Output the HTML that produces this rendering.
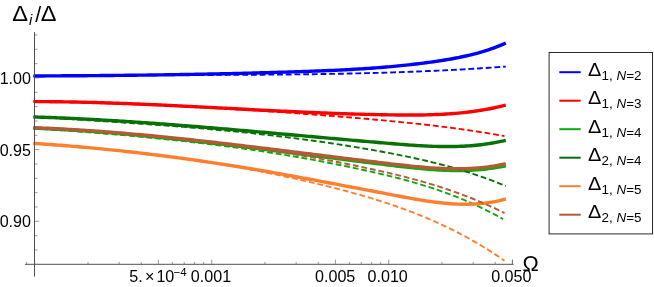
<!DOCTYPE html>
<html><head><meta charset="utf-8"><title>plot</title>
<style>
html,body{margin:0;padding:0;background:#fff;}
svg{display:block;}
#w{transform:translateZ(0);will-change:transform;width:654px;height:287px;overflow:hidden;background:#fff;}
text{font-family:"Liberation Sans",sans-serif;fill:#000;}
</style></head><body><div id="w">
<svg width="654" height="287" viewBox="0 0 654 287">
<rect width="654" height="287" fill="#fff"/>
<g>
<path d="M33.5 75.97 L36.0 75.96 L38.5 75.95 L41.0 75.94 L43.5 75.93 L46.0 75.91 L48.5 75.90 L51.0 75.89 L53.5 75.88 L56.0 75.87 L58.5 75.85 L61.0 75.84 L63.5 75.82 L66.0 75.81 L68.5 75.79 L71.0 75.78 L73.5 75.76 L76.0 75.75 L78.5 75.73 L81.0 75.71 L83.5 75.70 L86.0 75.68 L88.5 75.66 L91.0 75.64 L93.5 75.62 L96.0 75.60 L98.5 75.58 L101.0 75.56 L103.5 75.54 L106.0 75.51 L108.5 75.49 L111.0 75.47 L113.5 75.44 L116.0 75.42 L118.5 75.40 L121.0 75.37 L123.5 75.34 L126.0 75.32 L128.5 75.29 L131.0 75.26 L133.5 75.23 L136.0 75.20 L138.5 75.17 L141.0 75.14 L143.5 75.11 L146.0 75.08 L148.5 75.05 L151.0 75.02 L153.5 74.98 L156.0 74.95 L158.5 74.91 L161.0 74.88 L163.5 74.84 L166.0 74.80 L168.5 74.77 L171.0 74.73 L173.5 74.69 L176.0 74.65 L178.5 74.61 L181.0 74.57 L183.5 74.53 L186.0 74.48 L188.5 74.44 L191.0 74.40 L193.5 74.35 L196.0 74.30 L198.5 74.26 L201.0 74.21 L203.5 74.16 L206.0 74.11 L208.5 74.06 L211.0 74.01 L213.5 73.96 L216.0 73.91 L218.5 73.86 L221.0 73.80 L223.5 73.75 L226.0 73.69 L228.5 73.63 L231.0 73.58 L233.5 73.52 L236.0 73.46 L238.5 73.40 L241.0 73.34 L243.5 73.28 L246.0 73.21 L248.5 73.15 L251.0 73.09 L253.5 73.02 L256.0 72.95 L258.5 72.89 L261.0 72.82 L263.5 72.75 L266.0 72.68 L268.5 72.61 L271.0 72.53 L273.5 72.46 L276.0 72.39 L278.5 72.31 L281.0 72.24 L283.5 72.16 L286.0 72.08 L288.5 72.00 L291.0 71.92 L293.5 71.84 L296.0 71.76 L298.5 71.67 L301.0 71.59 L303.5 71.50 L306.0 71.41 L308.5 71.33 L311.0 71.24 L313.5 71.14 L316.0 71.05 L318.5 70.96 L321.0 70.86 L323.5 70.76 L326.0 70.65 L328.5 70.55 L331.0 70.44 L333.5 70.33 L336.0 70.22 L338.5 70.10 L341.0 69.98 L343.5 69.85 L346.0 69.73 L348.5 69.59 L351.0 69.46 L353.5 69.32 L356.0 69.17 L358.5 69.02 L361.0 68.87 L363.5 68.71 L366.0 68.55 L368.5 68.38 L371.0 68.21 L373.5 68.03 L376.0 67.84 L378.5 67.65 L381.0 67.46 L383.5 67.26 L386.0 67.05 L388.5 66.83 L391.0 66.61 L393.5 66.39 L396.0 66.15 L398.5 65.91 L401.0 65.66 L403.5 65.41 L406.0 65.15 L408.5 64.88 L411.0 64.60 L413.5 64.31 L416.0 64.02 L418.5 63.72 L421.0 63.41 L423.5 63.09 L426.0 62.76 L428.5 62.43 L431.0 62.08 L433.5 61.73 L436.0 61.36 L438.5 60.99 L441.0 60.60 L443.5 60.21 L446.0 59.80 L448.5 59.38 L451.0 58.95 L453.5 58.50 L456.0 58.03 L458.5 57.55 L461.0 57.04 L463.5 56.52 L466.0 55.97 L468.5 55.40 L471.0 54.80 L473.5 54.18 L476.0 53.53 L478.5 52.85 L481.0 52.14 L483.5 51.40 L486.0 50.62 L488.5 49.81 L491.0 48.96 L493.5 48.07 L496.0 47.14 L498.5 46.16 L501.0 45.15 L503.5 44.09 L505.8 43.07" fill="none" stroke="#0000ff" stroke-width="3.4" stroke-linecap="butt" stroke-linejoin="round"/>
<path d="M33.5 76.21 L36.0 76.16 L38.5 76.12 L41.0 76.07 L43.5 76.03 L46.0 75.99 L48.5 75.95 L51.0 75.91 L53.5 75.88 L56.0 75.84 L58.5 75.81 L61.0 75.77 L63.5 75.74 L66.0 75.71 L68.5 75.68 L71.0 75.65 L73.5 75.62 L76.0 75.59 L78.5 75.57 L81.0 75.54 L83.5 75.52 L86.0 75.49 L88.5 75.47 L91.0 75.45 L93.5 75.43 L96.0 75.41 L98.5 75.39 L101.0 75.37 L103.5 75.35 L106.0 75.33 L108.5 75.31 L111.0 75.30 L113.5 75.28 L116.0 75.27 L118.5 75.25 L121.0 75.24 L123.5 75.23 L126.0 75.21 L128.5 75.20 L131.0 75.19 L133.5 75.18 L136.0 75.17 L138.5 75.16 L141.0 75.15 L143.5 75.14 L146.0 75.13 L148.5 75.12 L151.0 75.11 L153.5 75.10 L156.0 75.09 L158.5 75.08 L161.0 75.08 L163.5 75.07 L166.0 75.06 L168.5 75.05 L171.0 75.05 L173.5 75.04 L176.0 75.03 L178.5 75.03 L181.0 75.02 L183.5 75.01 L186.0 75.01 L188.5 75.00 L191.0 74.99 L193.5 74.99 L196.0 74.98 L198.5 74.97 L201.0 74.97 L203.5 74.96 L206.0 74.95 L208.5 74.94 L211.0 74.94 L213.5 74.93 L216.0 74.92 L218.5 74.91 L221.0 74.90 L223.5 74.89 L226.0 74.88 L228.5 74.88 L231.0 74.87 L233.5 74.85 L236.0 74.84 L238.5 74.83 L241.0 74.82 L243.5 74.81 L246.0 74.80 L248.5 74.78 L251.0 74.77 L253.5 74.75 L256.0 74.74 L258.5 74.72 L261.0 74.71 L263.5 74.69 L266.0 74.67 L268.5 74.65 L271.0 74.64 L273.5 74.62 L276.0 74.60 L278.5 74.57 L281.0 74.55 L283.5 74.53 L286.0 74.51 L288.5 74.48 L291.0 74.46 L293.5 74.43 L296.0 74.40 L298.5 74.37 L301.0 74.34 L303.5 74.31 L306.0 74.28 L308.5 74.25 L311.0 74.22 L313.5 74.18 L316.0 74.15 L318.5 74.11 L321.0 74.07 L323.5 74.03 L326.0 73.99 L328.5 73.95 L331.0 73.91 L333.5 73.87 L336.0 73.82 L338.5 73.77 L341.0 73.73 L343.5 73.68 L346.0 73.63 L348.5 73.57 L351.0 73.52 L353.5 73.47 L356.0 73.41 L358.5 73.35 L361.0 73.29 L363.5 73.23 L366.0 73.17 L368.5 73.11 L371.0 73.04 L373.5 72.98 L376.0 72.91 L378.5 72.84 L381.0 72.77 L383.5 72.69 L386.0 72.62 L388.5 72.54 L391.0 72.46 L393.5 72.38 L396.0 72.30 L398.5 72.21 L401.0 72.13 L403.5 72.04 L406.0 71.95 L408.5 71.86 L411.0 71.77 L413.5 71.67 L416.0 71.57 L418.5 71.48 L421.0 71.37 L423.5 71.27 L426.0 71.17 L428.5 71.06 L431.0 70.95 L433.5 70.84 L436.0 70.72 L438.5 70.61 L441.0 70.49 L443.5 70.37 L446.0 70.25 L448.5 70.12 L451.0 70.00 L453.5 69.87 L456.0 69.73 L458.5 69.60 L461.0 69.46 L463.5 69.33 L466.0 69.19 L468.5 69.04 L471.0 68.90 L473.5 68.75 L476.0 68.60 L478.5 68.44 L481.0 68.29 L483.5 68.13 L486.0 67.97 L488.5 67.81 L491.0 67.64 L493.5 67.47 L496.0 67.30 L498.5 67.13 L501.0 66.95 L503.5 66.77 L505.8 66.60" fill="none" stroke="#0000ff" stroke-width="1.9" stroke-dasharray="5.8 2.9" stroke-linecap="butt"/>
<path d="M33.5 101.59 L36.0 101.59 L38.5 101.60 L41.0 101.61 L43.5 101.62 L46.0 101.63 L48.5 101.65 L51.0 101.68 L53.5 101.70 L56.0 101.73 L58.5 101.76 L61.0 101.79 L63.5 101.83 L66.0 101.87 L68.5 101.91 L71.0 101.96 L73.5 102.00 L76.0 102.06 L78.5 102.11 L81.0 102.16 L83.5 102.22 L86.0 102.28 L88.5 102.35 L91.0 102.41 L93.5 102.48 L96.0 102.55 L98.5 102.62 L101.0 102.69 L103.5 102.77 L106.0 102.85 L108.5 102.93 L111.0 103.01 L113.5 103.10 L116.0 103.18 L118.5 103.27 L121.0 103.36 L123.5 103.46 L126.0 103.55 L128.5 103.65 L131.0 103.74 L133.5 103.84 L136.0 103.94 L138.5 104.05 L141.0 104.15 L143.5 104.26 L146.0 104.36 L148.5 104.47 L151.0 104.58 L153.5 104.69 L156.0 104.80 L158.5 104.92 L161.0 105.03 L163.5 105.15 L166.0 105.26 L168.5 105.38 L171.0 105.50 L173.5 105.62 L176.0 105.74 L178.5 105.86 L181.0 105.99 L183.5 106.11 L186.0 106.23 L188.5 106.36 L191.0 106.48 L193.5 106.61 L196.0 106.74 L198.5 106.86 L201.0 106.99 L203.5 107.12 L206.0 107.25 L208.5 107.38 L211.0 107.50 L213.5 107.63 L216.0 107.76 L218.5 107.89 L221.0 108.02 L223.5 108.15 L226.0 108.28 L228.5 108.41 L231.0 108.54 L233.5 108.67 L236.0 108.80 L238.5 108.93 L241.0 109.06 L243.5 109.19 L246.0 109.32 L248.5 109.45 L251.0 109.58 L253.5 109.71 L256.0 109.84 L258.5 109.96 L261.0 110.09 L263.5 110.22 L266.0 110.34 L268.5 110.47 L271.0 110.59 L273.5 110.71 L276.0 110.84 L278.5 110.96 L281.0 111.08 L283.5 111.20 L286.0 111.32 L288.5 111.44 L291.0 111.55 L293.5 111.67 L296.0 111.78 L298.5 111.90 L301.0 112.01 L303.5 112.12 L306.0 112.23 L308.5 112.34 L311.0 112.44 L313.5 112.55 L316.0 112.65 L318.5 112.76 L321.0 112.86 L323.5 112.96 L326.0 113.05 L328.5 113.15 L331.0 113.24 L333.5 113.34 L336.0 113.43 L338.5 113.52 L341.0 113.60 L343.5 113.69 L346.0 113.77 L348.5 113.85 L351.0 113.93 L353.5 114.01 L356.0 114.08 L358.5 114.15 L361.0 114.22 L363.5 114.29 L366.0 114.36 L368.5 114.42 L371.0 114.48 L373.5 114.54 L376.0 114.59 L378.5 114.65 L381.0 114.70 L383.5 114.75 L386.0 114.79 L388.5 114.83 L391.0 114.87 L393.5 114.91 L396.0 114.94 L398.5 114.97 L401.0 115.00 L403.5 115.02 L406.0 115.03 L408.5 115.04 L411.0 115.04 L413.5 115.03 L416.0 115.02 L418.5 115.00 L421.0 114.97 L423.5 114.93 L426.0 114.88 L428.5 114.82 L431.0 114.75 L433.5 114.67 L436.0 114.57 L438.5 114.47 L441.0 114.35 L443.5 114.22 L446.0 114.07 L448.5 113.91 L451.0 113.73 L453.5 113.54 L456.0 113.34 L458.5 113.11 L461.0 112.87 L463.5 112.61 L466.0 112.34 L468.5 112.04 L471.0 111.73 L473.5 111.40 L476.0 111.04 L478.5 110.67 L481.0 110.27 L483.5 109.86 L486.0 109.42 L488.5 108.96 L491.0 108.47 L493.5 107.96 L496.0 107.43 L498.5 106.87 L501.0 106.29 L503.5 105.68 L505.8 105.10" fill="none" stroke="#ff0000" stroke-width="3.4" stroke-linecap="butt" stroke-linejoin="round"/>
<path d="M33.5 101.30 L36.0 101.35 L38.5 101.41 L41.0 101.46 L43.5 101.51 L46.0 101.57 L48.5 101.62 L51.0 101.68 L53.5 101.74 L56.0 101.80 L58.5 101.86 L61.0 101.92 L63.5 101.99 L66.0 102.05 L68.5 102.12 L71.0 102.18 L73.5 102.25 L76.0 102.32 L78.5 102.39 L81.0 102.46 L83.5 102.53 L86.0 102.61 L88.5 102.68 L91.0 102.76 L93.5 102.83 L96.0 102.91 L98.5 102.99 L101.0 103.07 L103.5 103.15 L106.0 103.24 L108.5 103.32 L111.0 103.40 L113.5 103.49 L116.0 103.58 L118.5 103.67 L121.0 103.76 L123.5 103.85 L126.0 103.94 L128.5 104.03 L131.0 104.13 L133.5 104.23 L136.0 104.32 L138.5 104.42 L141.0 104.52 L143.5 104.62 L146.0 104.72 L148.5 104.83 L151.0 104.93 L153.5 105.04 L156.0 105.14 L158.5 105.25 L161.0 105.36 L163.5 105.47 L166.0 105.58 L168.5 105.70 L171.0 105.81 L173.5 105.93 L176.0 106.04 L178.5 106.16 L181.0 106.28 L183.5 106.40 L186.0 106.53 L188.5 106.65 L191.0 106.77 L193.5 106.90 L196.0 107.03 L198.5 107.15 L201.0 107.28 L203.5 107.42 L206.0 107.55 L208.5 107.68 L211.0 107.82 L213.5 107.95 L216.0 108.09 L218.5 108.23 L221.0 108.37 L223.5 108.51 L226.0 108.65 L228.5 108.80 L231.0 108.94 L233.5 109.09 L236.0 109.24 L238.5 109.39 L241.0 109.54 L243.5 109.69 L246.0 109.84 L248.5 110.00 L251.0 110.15 L253.5 110.31 L256.0 110.47 L258.5 110.63 L261.0 110.79 L263.5 110.95 L266.0 111.12 L268.5 111.28 L271.0 111.45 L273.5 111.62 L276.0 111.79 L278.5 111.96 L281.0 112.13 L283.5 112.30 L286.0 112.48 L288.5 112.65 L291.0 112.83 L293.5 113.01 L296.0 113.19 L298.5 113.37 L301.0 113.56 L303.5 113.74 L306.0 113.93 L308.5 114.11 L311.0 114.30 L313.5 114.49 L316.0 114.68 L318.5 114.88 L321.0 115.07 L323.5 115.27 L326.0 115.47 L328.5 115.66 L331.0 115.86 L333.5 116.07 L336.0 116.27 L338.5 116.47 L341.0 116.68 L343.5 116.89 L346.0 117.10 L348.5 117.31 L351.0 117.52 L353.5 117.73 L356.0 117.95 L358.5 118.16 L361.0 118.38 L363.5 118.60 L366.0 118.82 L368.5 119.04 L371.0 119.26 L373.5 119.49 L376.0 119.72 L378.5 119.94 L381.0 120.17 L383.5 120.41 L386.0 120.64 L388.5 120.88 L391.0 121.11 L393.5 121.36 L396.0 121.60 L398.5 121.85 L401.0 122.09 L403.5 122.35 L406.0 122.60 L408.5 122.86 L411.0 123.12 L413.5 123.38 L416.0 123.65 L418.5 123.92 L421.0 124.19 L423.5 124.47 L426.0 124.75 L428.5 125.04 L431.0 125.33 L433.5 125.62 L436.0 125.92 L438.5 126.22 L441.0 126.53 L443.5 126.84 L446.0 127.15 L448.5 127.47 L451.0 127.80 L453.5 128.13 L456.0 128.46 L458.5 128.80 L461.0 129.15 L463.5 129.50 L466.0 129.86 L468.5 130.22 L471.0 130.59 L473.5 130.96 L476.0 131.34 L478.5 131.73 L481.0 132.12 L483.5 132.52 L486.0 132.92 L488.5 133.33 L491.0 133.75 L493.5 134.17 L496.0 134.60 L498.5 135.04 L501.0 135.49 L503.5 135.94 L504.5 136.12" fill="none" stroke="#ff0000" stroke-width="1.9" stroke-dasharray="5.8 2.9" stroke-linecap="butt"/>
<path d="M33.5 128.20 L36.0 128.30 L38.5 128.40 L41.0 128.50 L43.5 128.61 L46.0 128.72 L48.5 128.84 L51.0 128.95 L53.5 129.08 L56.0 129.20 L58.5 129.33 L61.0 129.47 L63.5 129.61 L66.0 129.75 L68.5 129.89 L71.0 130.04 L73.5 130.19 L76.0 130.35 L78.5 130.51 L81.0 130.67 L83.5 130.84 L86.0 131.01 L88.5 131.18 L91.0 131.35 L93.5 131.53 L96.0 131.71 L98.5 131.90 L101.0 132.09 L103.5 132.28 L106.0 132.47 L108.5 132.67 L111.0 132.87 L113.5 133.08 L116.0 133.28 L118.5 133.49 L121.0 133.70 L123.5 133.92 L126.0 134.14 L128.5 134.36 L131.0 134.58 L133.5 134.80 L136.0 135.03 L138.5 135.26 L141.0 135.50 L143.5 135.73 L146.0 135.97 L148.5 136.21 L151.0 136.46 L153.5 136.70 L156.0 136.95 L158.5 137.20 L161.0 137.45 L163.5 137.71 L166.0 137.96 L168.5 138.22 L171.0 138.48 L173.5 138.74 L176.0 139.01 L178.5 139.28 L181.0 139.55 L183.5 139.82 L186.0 140.09 L188.5 140.36 L191.0 140.64 L193.5 140.92 L196.0 141.20 L198.5 141.48 L201.0 141.76 L203.5 142.05 L206.0 142.33 L208.5 142.62 L211.0 142.91 L213.5 143.20 L216.0 143.49 L218.5 143.79 L221.0 144.08 L223.5 144.38 L226.0 144.68 L228.5 144.98 L231.0 145.28 L233.5 145.58 L236.0 145.88 L238.5 146.18 L241.0 146.49 L243.5 146.79 L246.0 147.10 L248.5 147.41 L251.0 147.72 L253.5 148.03 L256.0 148.34 L258.5 148.65 L261.0 148.96 L263.5 149.27 L266.0 149.59 L268.5 149.90 L271.0 150.22 L273.5 150.53 L276.0 150.85 L278.5 151.16 L281.0 151.48 L283.5 151.80 L286.0 152.11 L288.5 152.43 L291.0 152.75 L293.5 153.07 L296.0 153.39 L298.5 153.71 L301.0 154.03 L303.5 154.35 L306.0 154.67 L308.5 154.99 L311.0 155.31 L313.5 155.63 L316.0 155.95 L318.5 156.26 L321.0 156.58 L323.5 156.90 L326.0 157.22 L328.5 157.54 L331.0 157.86 L333.5 158.18 L336.0 158.50 L338.5 158.82 L341.0 159.13 L343.5 159.45 L346.0 159.77 L348.5 160.08 L351.0 160.40 L353.5 160.71 L356.0 161.03 L358.5 161.34 L361.0 161.65 L363.5 161.97 L366.0 162.28 L368.5 162.59 L371.0 162.90 L373.5 163.21 L376.0 163.51 L378.5 163.82 L381.0 164.13 L383.5 164.43 L386.0 164.74 L388.5 165.04 L391.0 165.34 L393.5 165.64 L396.0 165.94 L398.5 166.23 L401.0 166.53 L403.5 166.81 L406.0 167.10 L408.5 167.37 L411.0 167.64 L413.5 167.90 L416.0 168.16 L418.5 168.40 L421.0 168.64 L423.5 168.86 L426.0 169.08 L428.5 169.28 L431.0 169.47 L433.5 169.65 L436.0 169.81 L438.5 169.96 L441.0 170.09 L443.5 170.21 L446.0 170.31 L448.5 170.39 L451.0 170.45 L453.5 170.49 L456.0 170.52 L458.5 170.52 L461.0 170.50 L463.5 170.46 L466.0 170.40 L468.5 170.31 L471.0 170.20 L473.5 170.07 L476.0 169.91 L478.5 169.72 L481.0 169.50 L483.5 169.26 L486.0 168.99 L488.5 168.68 L491.0 168.35 L493.5 167.99 L496.0 167.59 L498.5 167.17 L501.0 166.71 L503.5 166.21 L505.8 165.73" fill="none" stroke="#0cab0c" stroke-width="3.4" stroke-linecap="butt" stroke-linejoin="round"/>
<path d="M33.5 128.32 L36.0 128.49 L38.5 128.66 L41.0 128.83 L43.5 129.00 L46.0 129.17 L48.5 129.34 L51.0 129.51 L53.5 129.69 L56.0 129.86 L58.5 130.04 L61.0 130.22 L63.5 130.40 L66.0 130.58 L68.5 130.76 L71.0 130.95 L73.5 131.13 L76.0 131.32 L78.5 131.50 L81.0 131.69 L83.5 131.88 L86.0 132.08 L88.5 132.27 L91.0 132.47 L93.5 132.66 L96.0 132.86 L98.5 133.06 L101.0 133.27 L103.5 133.47 L106.0 133.68 L108.5 133.88 L111.0 134.09 L113.5 134.30 L116.0 134.52 L118.5 134.73 L121.0 134.95 L123.5 135.17 L126.0 135.39 L128.5 135.61 L131.0 135.84 L133.5 136.07 L136.0 136.30 L138.5 136.53 L141.0 136.76 L143.5 137.00 L146.0 137.24 L148.5 137.48 L151.0 137.72 L153.5 137.97 L156.0 138.21 L158.5 138.46 L161.0 138.72 L163.5 138.97 L166.0 139.23 L168.5 139.49 L171.0 139.75 L173.5 140.02 L176.0 140.28 L178.5 140.55 L181.0 140.83 L183.5 141.10 L186.0 141.38 L188.5 141.66 L191.0 141.95 L193.5 142.23 L196.0 142.52 L198.5 142.82 L201.0 143.11 L203.5 143.41 L206.0 143.71 L208.5 144.02 L211.0 144.32 L213.5 144.63 L216.0 144.95 L218.5 145.26 L221.0 145.58 L223.5 145.91 L226.0 146.23 L228.5 146.56 L231.0 146.90 L233.5 147.23 L236.0 147.57 L238.5 147.91 L241.0 148.26 L243.5 148.61 L246.0 148.96 L248.5 149.32 L251.0 149.68 L253.5 150.04 L256.0 150.41 L258.5 150.78 L261.0 151.15 L263.5 151.53 L266.0 151.91 L268.5 152.30 L271.0 152.69 L273.5 153.08 L276.0 153.48 L278.5 153.88 L281.0 154.28 L283.5 154.69 L286.0 155.10 L288.5 155.52 L291.0 155.94 L293.5 156.36 L296.0 156.79 L298.5 157.22 L301.0 157.66 L303.5 158.10 L306.0 158.54 L308.5 158.99 L311.0 159.44 L313.5 159.90 L316.0 160.36 L318.5 160.83 L321.0 161.30 L323.5 161.77 L326.0 162.25 L328.5 162.73 L331.0 163.22 L333.5 163.71 L336.0 164.21 L338.5 164.71 L341.0 165.22 L343.5 165.73 L346.0 166.24 L348.5 166.76 L351.0 167.29 L353.5 167.81 L356.0 168.35 L358.5 168.89 L361.0 169.43 L363.5 169.98 L366.0 170.53 L368.5 171.09 L371.0 171.65 L373.5 172.22 L376.0 172.79 L378.5 173.37 L381.0 173.96 L383.5 174.55 L386.0 175.15 L388.5 175.76 L391.0 176.38 L393.5 177.00 L396.0 177.63 L398.5 178.28 L401.0 178.93 L403.5 179.59 L406.0 180.27 L408.5 180.95 L411.0 181.65 L413.5 182.36 L416.0 183.08 L418.5 183.82 L421.0 184.56 L423.5 185.32 L426.0 186.10 L428.5 186.89 L431.0 187.70 L433.5 188.52 L436.0 189.36 L438.5 190.21 L441.0 191.08 L443.5 191.97 L446.0 192.87 L448.5 193.80 L451.0 194.74 L453.5 195.70 L456.0 196.68 L458.5 197.68 L461.0 198.69 L463.5 199.73 L466.0 200.79 L468.5 201.87 L471.0 202.97 L473.5 204.09 L476.0 205.24 L478.5 206.40 L481.0 207.59 L483.5 208.80 L486.0 210.03 L488.5 211.29 L491.0 212.57 L493.5 213.88 L496.0 215.21 L498.5 216.56 L501.0 217.94 L503.0 219.07" fill="none" stroke="#0cab0c" stroke-width="1.9" stroke-dasharray="5.8 2.9" stroke-linecap="butt"/>
<path d="M33.5 116.97 L36.0 117.05 L38.5 117.13 L41.0 117.21 L43.5 117.29 L46.0 117.38 L48.5 117.47 L51.0 117.57 L53.5 117.66 L56.0 117.76 L58.5 117.86 L61.0 117.96 L63.5 118.07 L66.0 118.18 L68.5 118.29 L71.0 118.40 L73.5 118.52 L76.0 118.64 L78.5 118.76 L81.0 118.88 L83.5 119.00 L86.0 119.13 L88.5 119.26 L91.0 119.39 L93.5 119.53 L96.0 119.66 L98.5 119.80 L101.0 119.94 L103.5 120.08 L106.0 120.23 L108.5 120.37 L111.0 120.52 L113.5 120.67 L116.0 120.82 L118.5 120.98 L121.0 121.13 L123.5 121.29 L126.0 121.45 L128.5 121.61 L131.0 121.77 L133.5 121.94 L136.0 122.11 L138.5 122.27 L141.0 122.44 L143.5 122.62 L146.0 122.79 L148.5 122.96 L151.0 123.14 L153.5 123.32 L156.0 123.50 L158.5 123.68 L161.0 123.86 L163.5 124.05 L166.0 124.23 L168.5 124.42 L171.0 124.61 L173.5 124.80 L176.0 124.99 L178.5 125.18 L181.0 125.37 L183.5 125.57 L186.0 125.76 L188.5 125.96 L191.0 126.16 L193.5 126.36 L196.0 126.56 L198.5 126.76 L201.0 126.96 L203.5 127.17 L206.0 127.37 L208.5 127.58 L211.0 127.78 L213.5 127.99 L216.0 128.20 L218.5 128.41 L221.0 128.62 L223.5 128.83 L226.0 129.04 L228.5 129.25 L231.0 129.47 L233.5 129.68 L236.0 129.90 L238.5 130.11 L241.0 130.33 L243.5 130.55 L246.0 130.76 L248.5 130.98 L251.0 131.20 L253.5 131.42 L256.0 131.64 L258.5 131.86 L261.0 132.08 L263.5 132.30 L266.0 132.52 L268.5 132.74 L271.0 132.97 L273.5 133.19 L276.0 133.41 L278.5 133.64 L281.0 133.86 L283.5 134.08 L286.0 134.31 L288.5 134.53 L291.0 134.75 L293.5 134.98 L296.0 135.20 L298.5 135.43 L301.0 135.65 L303.5 135.88 L306.0 136.10 L308.5 136.32 L311.0 136.55 L313.5 136.77 L316.0 137.00 L318.5 137.22 L321.0 137.45 L323.5 137.67 L326.0 137.89 L328.5 138.12 L331.0 138.34 L333.5 138.56 L336.0 138.78 L338.5 139.01 L341.0 139.23 L343.5 139.45 L346.0 139.67 L348.5 139.89 L351.0 140.11 L353.5 140.33 L356.0 140.55 L358.5 140.77 L361.0 140.98 L363.5 141.20 L366.0 141.42 L368.5 141.63 L371.0 141.85 L373.5 142.06 L376.0 142.28 L378.5 142.49 L381.0 142.70 L383.5 142.91 L386.0 143.12 L388.5 143.33 L391.0 143.54 L393.5 143.75 L396.0 143.96 L398.5 144.16 L401.0 144.36 L403.5 144.56 L406.0 144.75 L408.5 144.93 L411.0 145.11 L413.5 145.28 L416.0 145.45 L418.5 145.61 L421.0 145.75 L423.5 145.89 L426.0 146.02 L428.5 146.13 L431.0 146.24 L433.5 146.33 L436.0 146.41 L438.5 146.47 L441.0 146.52 L443.5 146.55 L446.0 146.57 L448.5 146.57 L451.0 146.55 L453.5 146.52 L456.0 146.46 L458.5 146.39 L461.0 146.29 L463.5 146.18 L466.0 146.04 L468.5 145.88 L471.0 145.69 L473.5 145.48 L476.0 145.25 L478.5 144.99 L481.0 144.70 L483.5 144.39 L486.0 144.05 L488.5 143.68 L491.0 143.29 L493.5 142.86 L496.0 142.40 L498.5 141.91 L501.0 141.39 L503.5 140.83 L505.8 140.29" fill="none" stroke="#067206" stroke-width="3.4" stroke-linecap="butt" stroke-linejoin="round"/>
<path d="M33.5 116.74 L36.0 116.90 L38.5 117.06 L41.0 117.22 L43.5 117.38 L46.0 117.54 L48.5 117.70 L51.0 117.85 L53.5 118.01 L56.0 118.17 L58.5 118.33 L61.0 118.48 L63.5 118.64 L66.0 118.80 L68.5 118.95 L71.0 119.11 L73.5 119.27 L76.0 119.43 L78.5 119.59 L81.0 119.74 L83.5 119.90 L86.0 120.06 L88.5 120.22 L91.0 120.38 L93.5 120.54 L96.0 120.70 L98.5 120.86 L101.0 121.03 L103.5 121.19 L106.0 121.35 L108.5 121.52 L111.0 121.68 L113.5 121.84 L116.0 122.01 L118.5 122.18 L121.0 122.35 L123.5 122.51 L126.0 122.68 L128.5 122.85 L131.0 123.03 L133.5 123.20 L136.0 123.37 L138.5 123.55 L141.0 123.72 L143.5 123.90 L146.0 124.08 L148.5 124.26 L151.0 124.44 L153.5 124.62 L156.0 124.80 L158.5 124.99 L161.0 125.17 L163.5 125.36 L166.0 125.55 L168.5 125.74 L171.0 125.94 L173.5 126.13 L176.0 126.33 L178.5 126.52 L181.0 126.72 L183.5 126.92 L186.0 127.13 L188.5 127.33 L191.0 127.54 L193.5 127.75 L196.0 127.96 L198.5 128.17 L201.0 128.38 L203.5 128.60 L206.0 128.82 L208.5 129.04 L211.0 129.26 L213.5 129.49 L216.0 129.71 L218.5 129.94 L221.0 130.18 L223.5 130.41 L226.0 130.65 L228.5 130.89 L231.0 131.13 L233.5 131.37 L236.0 131.62 L238.5 131.87 L241.0 132.12 L243.5 132.37 L246.0 132.63 L248.5 132.89 L251.0 133.15 L253.5 133.42 L256.0 133.69 L258.5 133.96 L261.0 134.23 L263.5 134.51 L266.0 134.79 L268.5 135.07 L271.0 135.36 L273.5 135.65 L276.0 135.94 L278.5 136.24 L281.0 136.54 L283.5 136.84 L286.0 137.14 L288.5 137.45 L291.0 137.76 L293.5 138.08 L296.0 138.40 L298.5 138.72 L301.0 139.05 L303.5 139.38 L306.0 139.71 L308.5 140.05 L311.0 140.39 L313.5 140.73 L316.0 141.08 L318.5 141.43 L321.0 141.78 L323.5 142.14 L326.0 142.51 L328.5 142.87 L331.0 143.24 L333.5 143.62 L336.0 144.00 L338.5 144.38 L341.0 144.77 L343.5 145.16 L346.0 145.55 L348.5 145.95 L351.0 146.35 L353.5 146.76 L356.0 147.17 L358.5 147.59 L361.0 148.01 L363.5 148.44 L366.0 148.87 L368.5 149.30 L371.0 149.74 L373.5 150.18 L376.0 150.63 L378.5 151.08 L381.0 151.54 L383.5 152.00 L386.0 152.47 L388.5 152.94 L391.0 153.42 L393.5 153.90 L396.0 154.39 L398.5 154.88 L401.0 155.38 L403.5 155.88 L406.0 156.39 L408.5 156.91 L411.0 157.44 L413.5 157.97 L416.0 158.51 L418.5 159.06 L421.0 159.62 L423.5 160.19 L426.0 160.77 L428.5 161.36 L431.0 161.96 L433.5 162.57 L436.0 163.19 L438.5 163.82 L441.0 164.46 L443.5 165.12 L446.0 165.78 L448.5 166.47 L451.0 167.16 L453.5 167.87 L456.0 168.59 L458.5 169.32 L461.0 170.07 L463.5 170.83 L466.0 171.61 L468.5 172.40 L471.0 173.21 L473.5 174.03 L476.0 174.86 L478.5 175.71 L481.0 176.57 L483.5 177.45 L486.0 178.34 L488.5 179.25 L491.0 180.17 L493.5 181.11 L496.0 182.06 L498.5 183.03 L501.0 184.01 L503.5 185.01 L505.8 185.95" fill="none" stroke="#067206" stroke-width="1.9" stroke-dasharray="5.8 2.9" stroke-linecap="butt"/>
<path d="M33.5 143.35 L36.0 143.52 L38.5 143.68 L41.0 143.85 L43.5 144.03 L46.0 144.20 L48.5 144.38 L51.0 144.56 L53.5 144.75 L56.0 144.93 L58.5 145.13 L61.0 145.32 L63.5 145.52 L66.0 145.72 L68.5 145.92 L71.0 146.13 L73.5 146.34 L76.0 146.55 L78.5 146.77 L81.0 146.98 L83.5 147.21 L86.0 147.43 L88.5 147.66 L91.0 147.89 L93.5 148.12 L96.0 148.36 L98.5 148.60 L101.0 148.84 L103.5 149.09 L106.0 149.34 L108.5 149.59 L111.0 149.84 L113.5 150.10 L116.0 150.36 L118.5 150.63 L121.0 150.89 L123.5 151.16 L126.0 151.44 L128.5 151.71 L131.0 151.99 L133.5 152.27 L136.0 152.56 L138.5 152.84 L141.0 153.13 L143.5 153.43 L146.0 153.72 L148.5 154.02 L151.0 154.33 L153.5 154.63 L156.0 154.94 L158.5 155.25 L161.0 155.56 L163.5 155.88 L166.0 156.20 L168.5 156.52 L171.0 156.85 L173.5 157.17 L176.0 157.51 L178.5 157.84 L181.0 158.18 L183.5 158.52 L186.0 158.86 L188.5 159.20 L191.0 159.55 L193.5 159.90 L196.0 160.26 L198.5 160.61 L201.0 160.97 L203.5 161.34 L206.0 161.70 L208.5 162.07 L211.0 162.44 L213.5 162.81 L216.0 163.19 L218.5 163.57 L221.0 163.95 L223.5 164.34 L226.0 164.72 L228.5 165.11 L231.0 165.51 L233.5 165.90 L236.0 166.30 L238.5 166.70 L241.0 167.11 L243.5 167.51 L246.0 167.92 L248.5 168.34 L251.0 168.75 L253.5 169.17 L256.0 169.59 L258.5 170.01 L261.0 170.44 L263.5 170.87 L266.0 171.30 L268.5 171.74 L271.0 172.17 L273.5 172.61 L276.0 173.05 L278.5 173.50 L281.0 173.95 L283.5 174.40 L286.0 174.85 L288.5 175.30 L291.0 175.76 L293.5 176.21 L296.0 176.67 L298.5 177.13 L301.0 177.59 L303.5 178.06 L306.0 178.52 L308.5 178.99 L311.0 179.46 L313.5 179.92 L316.0 180.39 L318.5 180.86 L321.0 181.33 L323.5 181.80 L326.0 182.27 L328.5 182.75 L331.0 183.22 L333.5 183.69 L336.0 184.16 L338.5 184.63 L341.0 185.10 L343.5 185.58 L346.0 186.05 L348.5 186.52 L351.0 186.99 L353.5 187.46 L356.0 187.94 L358.5 188.41 L361.0 188.88 L363.5 189.36 L366.0 189.83 L368.5 190.30 L371.0 190.78 L373.5 191.25 L376.0 191.73 L378.5 192.21 L381.0 192.68 L383.5 193.16 L386.0 193.64 L388.5 194.12 L391.0 194.60 L393.5 195.08 L396.0 195.56 L398.5 196.03 L401.0 196.51 L403.5 196.98 L406.0 197.44 L408.5 197.90 L411.0 198.35 L413.5 198.80 L416.0 199.23 L418.5 199.66 L421.0 200.07 L423.5 200.47 L426.0 200.85 L428.5 201.22 L431.0 201.57 L433.5 201.91 L436.0 202.23 L438.5 202.53 L441.0 202.81 L443.5 203.07 L446.0 203.30 L448.5 203.51 L451.0 203.70 L453.5 203.86 L456.0 203.99 L458.5 204.10 L461.0 204.18 L463.5 204.22 L466.0 204.24 L468.5 204.22 L471.0 204.16 L473.5 204.07 L476.0 203.94 L478.5 203.78 L481.0 203.57 L483.5 203.32 L486.0 203.02 L488.5 202.68 L491.0 202.30 L493.5 201.86 L496.0 201.38 L498.5 200.84 L501.0 200.26 L503.5 199.61 L505.8 198.97" fill="none" stroke="#ff7f2e" stroke-width="3.4" stroke-linecap="butt" stroke-linejoin="round"/>
<path d="M33.5 143.36 L36.0 143.53 L38.5 143.70 L41.0 143.88 L43.5 144.06 L46.0 144.24 L48.5 144.42 L51.0 144.60 L53.5 144.79 L56.0 144.98 L58.5 145.17 L61.0 145.37 L63.5 145.56 L66.0 145.76 L68.5 145.96 L71.0 146.17 L73.5 146.37 L76.0 146.58 L78.5 146.79 L81.0 147.01 L83.5 147.22 L86.0 147.44 L88.5 147.67 L91.0 147.89 L93.5 148.12 L96.0 148.35 L98.5 148.58 L101.0 148.82 L103.5 149.06 L106.0 149.30 L108.5 149.55 L111.0 149.80 L113.5 150.05 L116.0 150.30 L118.5 150.56 L121.0 150.82 L123.5 151.09 L126.0 151.35 L128.5 151.62 L131.0 151.90 L133.5 152.18 L136.0 152.46 L138.5 152.74 L141.0 153.03 L143.5 153.32 L146.0 153.61 L148.5 153.91 L151.0 154.22 L153.5 154.52 L156.0 154.83 L158.5 155.14 L161.0 155.46 L163.5 155.78 L166.0 156.11 L168.5 156.43 L171.0 156.77 L173.5 157.10 L176.0 157.44 L178.5 157.79 L181.0 158.13 L183.5 158.49 L186.0 158.84 L188.5 159.20 L191.0 159.57 L193.5 159.93 L196.0 160.31 L198.5 160.68 L201.0 161.07 L203.5 161.45 L206.0 161.84 L208.5 162.24 L211.0 162.63 L213.5 163.04 L216.0 163.45 L218.5 163.86 L221.0 164.27 L223.5 164.70 L226.0 165.12 L228.5 165.55 L231.0 165.99 L233.5 166.43 L236.0 166.87 L238.5 167.32 L241.0 167.78 L243.5 168.24 L246.0 168.70 L248.5 169.17 L251.0 169.64 L253.5 170.12 L256.0 170.60 L258.5 171.08 L261.0 171.57 L263.5 172.07 L266.0 172.57 L268.5 173.07 L271.0 173.58 L273.5 174.09 L276.0 174.61 L278.5 175.13 L281.0 175.66 L283.5 176.19 L286.0 176.72 L288.5 177.26 L291.0 177.81 L293.5 178.35 L296.0 178.90 L298.5 179.46 L301.0 180.02 L303.5 180.58 L306.0 181.15 L308.5 181.73 L311.0 182.31 L313.5 182.89 L316.0 183.48 L318.5 184.07 L321.0 184.67 L323.5 185.28 L326.0 185.89 L328.5 186.50 L331.0 187.13 L333.5 187.76 L336.0 188.40 L338.5 189.04 L341.0 189.69 L343.5 190.35 L346.0 191.02 L348.5 191.69 L351.0 192.37 L353.5 193.06 L356.0 193.76 L358.5 194.47 L361.0 195.19 L363.5 195.91 L366.0 196.65 L368.5 197.39 L371.0 198.14 L373.5 198.90 L376.0 199.68 L378.5 200.46 L381.0 201.25 L383.5 202.06 L386.0 202.88 L388.5 203.70 L391.0 204.54 L393.5 205.40 L396.0 206.26 L398.5 207.14 L401.0 208.03 L403.5 208.93 L406.0 209.85 L408.5 210.79 L411.0 211.73 L413.5 212.70 L416.0 213.67 L418.5 214.67 L421.0 215.67 L423.5 216.70 L426.0 217.74 L428.5 218.80 L431.0 219.88 L433.5 220.97 L436.0 222.08 L438.5 223.21 L441.0 224.35 L443.5 225.52 L446.0 226.70 L448.5 227.91 L451.0 229.13 L453.5 230.38 L456.0 231.64 L458.5 232.92 L461.0 234.23 L463.5 235.56 L466.0 236.90 L468.5 238.27 L471.0 239.66 L473.5 241.08 L476.0 242.52 L478.5 243.98 L481.0 245.46 L483.5 246.97 L486.0 248.50 L488.5 250.05 L491.0 251.63 L493.5 253.24 L496.0 254.87 L498.5 256.52 L501.0 258.20 L503.5 259.91 L504.5 260.60" fill="none" stroke="#ff7f2e" stroke-width="1.9" stroke-dasharray="5.8 2.9" stroke-linecap="butt"/>
<path d="M33.5 127.70 L36.0 127.79 L38.5 127.88 L41.0 127.98 L43.5 128.09 L46.0 128.19 L48.5 128.31 L51.0 128.42 L53.5 128.54 L56.0 128.66 L58.5 128.79 L61.0 128.92 L63.5 129.05 L66.0 129.19 L68.5 129.33 L71.0 129.47 L73.5 129.62 L76.0 129.77 L78.5 129.93 L81.0 130.08 L83.5 130.24 L86.0 130.41 L88.5 130.58 L91.0 130.75 L93.5 130.92 L96.0 131.10 L98.5 131.28 L101.0 131.46 L103.5 131.65 L106.0 131.83 L108.5 132.03 L111.0 132.22 L113.5 132.42 L116.0 132.62 L118.5 132.82 L121.0 133.03 L123.5 133.24 L126.0 133.45 L128.5 133.66 L131.0 133.88 L133.5 134.10 L136.0 134.32 L138.5 134.55 L141.0 134.77 L143.5 135.00 L146.0 135.23 L148.5 135.47 L151.0 135.71 L153.5 135.94 L156.0 136.19 L158.5 136.43 L161.0 136.67 L163.5 136.92 L166.0 137.17 L168.5 137.42 L171.0 137.68 L173.5 137.93 L176.0 138.19 L178.5 138.45 L181.0 138.71 L183.5 138.98 L186.0 139.24 L188.5 139.51 L191.0 139.78 L193.5 140.05 L196.0 140.32 L198.5 140.60 L201.0 140.87 L203.5 141.15 L206.0 141.43 L208.5 141.71 L211.0 141.99 L213.5 142.27 L216.0 142.56 L218.5 142.84 L221.0 143.13 L223.5 143.42 L226.0 143.71 L228.5 144.00 L231.0 144.29 L233.5 144.59 L236.0 144.88 L238.5 145.18 L241.0 145.48 L243.5 145.77 L246.0 146.07 L248.5 146.37 L251.0 146.67 L253.5 146.97 L256.0 147.28 L258.5 147.58 L261.0 147.88 L263.5 148.19 L266.0 148.49 L268.5 148.80 L271.0 149.11 L273.5 149.41 L276.0 149.72 L278.5 150.03 L281.0 150.34 L283.5 150.65 L286.0 150.96 L288.5 151.26 L291.0 151.58 L293.5 151.89 L296.0 152.20 L298.5 152.51 L301.0 152.82 L303.5 153.13 L306.0 153.44 L308.5 153.75 L311.0 154.06 L313.5 154.38 L316.0 154.69 L318.5 155.00 L321.0 155.31 L323.5 155.62 L326.0 155.93 L328.5 156.24 L331.0 156.55 L333.5 156.86 L336.0 157.17 L338.5 157.48 L341.0 157.79 L343.5 158.10 L346.0 158.41 L348.5 158.72 L351.0 159.02 L353.5 159.33 L356.0 159.64 L358.5 159.94 L361.0 160.25 L363.5 160.55 L366.0 160.85 L368.5 161.16 L371.0 161.46 L373.5 161.76 L376.0 162.06 L378.5 162.36 L381.0 162.65 L383.5 162.95 L386.0 163.25 L388.5 163.54 L391.0 163.84 L393.5 164.13 L396.0 164.42 L398.5 164.71 L401.0 164.99 L403.5 165.27 L406.0 165.54 L408.5 165.81 L411.0 166.07 L413.5 166.33 L416.0 166.57 L418.5 166.81 L421.0 167.04 L423.5 167.25 L426.0 167.46 L428.5 167.65 L431.0 167.83 L433.5 168.00 L436.0 168.16 L438.5 168.30 L441.0 168.42 L443.5 168.53 L446.0 168.62 L448.5 168.69 L451.0 168.74 L453.5 168.78 L456.0 168.79 L458.5 168.79 L461.0 168.76 L463.5 168.71 L466.0 168.64 L468.5 168.54 L471.0 168.42 L473.5 168.27 L476.0 168.10 L478.5 167.90 L481.0 167.67 L483.5 167.42 L486.0 167.13 L488.5 166.82 L491.0 166.48 L493.5 166.10 L496.0 165.69 L498.5 165.25 L501.0 164.78 L503.5 164.27 L505.8 163.78" fill="none" stroke="#b45a34" stroke-width="3.4" stroke-linecap="butt" stroke-linejoin="round"/>
<path d="M33.5 127.40 L36.0 127.54 L38.5 127.69 L41.0 127.83 L43.5 127.98 L46.0 128.13 L48.5 128.28 L51.0 128.43 L53.5 128.58 L56.0 128.73 L58.5 128.89 L61.0 129.05 L63.5 129.21 L66.0 129.37 L68.5 129.53 L71.0 129.69 L73.5 129.86 L76.0 130.03 L78.5 130.20 L81.0 130.37 L83.5 130.54 L86.0 130.72 L88.5 130.89 L91.0 131.07 L93.5 131.25 L96.0 131.44 L98.5 131.62 L101.0 131.81 L103.5 132.00 L106.0 132.19 L108.5 132.38 L111.0 132.58 L113.5 132.78 L116.0 132.98 L118.5 133.18 L121.0 133.38 L123.5 133.59 L126.0 133.80 L128.5 134.01 L131.0 134.22 L133.5 134.44 L136.0 134.65 L138.5 134.87 L141.0 135.10 L143.5 135.32 L146.0 135.55 L148.5 135.78 L151.0 136.01 L153.5 136.24 L156.0 136.48 L158.5 136.72 L161.0 136.96 L163.5 137.21 L166.0 137.46 L168.5 137.71 L171.0 137.96 L173.5 138.22 L176.0 138.48 L178.5 138.74 L181.0 139.00 L183.5 139.27 L186.0 139.54 L188.5 139.81 L191.0 140.09 L193.5 140.36 L196.0 140.65 L198.5 140.93 L201.0 141.22 L203.5 141.51 L206.0 141.80 L208.5 142.10 L211.0 142.39 L213.5 142.70 L216.0 143.00 L218.5 143.31 L221.0 143.62 L223.5 143.94 L226.0 144.26 L228.5 144.58 L231.0 144.90 L233.5 145.23 L236.0 145.56 L238.5 145.89 L241.0 146.23 L243.5 146.57 L246.0 146.92 L248.5 147.26 L251.0 147.62 L253.5 147.97 L256.0 148.33 L258.5 148.69 L261.0 149.05 L263.5 149.42 L266.0 149.80 L268.5 150.17 L271.0 150.55 L273.5 150.93 L276.0 151.32 L278.5 151.71 L281.0 152.11 L283.5 152.50 L286.0 152.90 L288.5 153.31 L291.0 153.72 L293.5 154.13 L296.0 154.55 L298.5 154.97 L301.0 155.39 L303.5 155.82 L306.0 156.25 L308.5 156.69 L311.0 157.13 L313.5 157.58 L316.0 158.02 L318.5 158.48 L321.0 158.93 L323.5 159.39 L326.0 159.86 L328.5 160.33 L331.0 160.80 L333.5 161.28 L336.0 161.76 L338.5 162.25 L341.0 162.74 L343.5 163.23 L346.0 163.73 L348.5 164.23 L351.0 164.74 L353.5 165.25 L356.0 165.77 L358.5 166.29 L361.0 166.81 L363.5 167.34 L366.0 167.88 L368.5 168.41 L371.0 168.96 L373.5 169.51 L376.0 170.06 L378.5 170.62 L381.0 171.18 L383.5 171.75 L386.0 172.33 L388.5 172.91 L391.0 173.50 L393.5 174.10 L396.0 174.70 L398.5 175.31 L401.0 175.93 L403.5 176.56 L406.0 177.20 L408.5 177.85 L411.0 178.51 L413.5 179.17 L416.0 179.85 L418.5 180.54 L421.0 181.24 L423.5 181.95 L426.0 182.67 L428.5 183.40 L431.0 184.15 L433.5 184.91 L436.0 185.68 L438.5 186.46 L441.0 187.26 L443.5 188.07 L446.0 188.90 L448.5 189.74 L451.0 190.59 L453.5 191.46 L456.0 192.35 L458.5 193.25 L461.0 194.16 L463.5 195.10 L466.0 196.05 L468.5 197.02 L471.0 198.00 L473.5 199.00 L476.0 200.02 L478.5 201.06 L481.0 202.12 L483.5 203.20 L486.0 204.29 L488.5 205.41 L491.0 206.54 L493.5 207.70 L496.0 208.88 L498.5 210.07 L501.0 211.29 L503.5 212.53 L504.5 213.04" fill="none" stroke="#b45a34" stroke-width="1.9" stroke-dasharray="5.8 2.9" stroke-linecap="butt"/>
</g>
<g stroke="#505050" stroke-width="1" fill="none">
<line x1="24.9" y1="264.3" x2="513.6" y2="264.3"/>
<line x1="34.5" y1="32.2" x2="34.5" y2="276.6"/>
</g>
<g stroke="#585858" stroke-width="0.6" fill="none">
<line x1="34.5" y1="249.96" x2="37.50" y2="249.96"/>
<line x1="34.5" y1="235.63" x2="37.50" y2="235.63"/>
<line x1="34.5" y1="221.30" x2="39.10" y2="221.30"/>
<line x1="34.5" y1="206.97" x2="37.50" y2="206.97"/>
<line x1="34.5" y1="192.64" x2="37.50" y2="192.64"/>
<line x1="34.5" y1="178.31" x2="37.50" y2="178.31"/>
<line x1="34.5" y1="163.98" x2="37.50" y2="163.98"/>
<line x1="34.5" y1="149.65" x2="39.10" y2="149.65"/>
<line x1="34.5" y1="135.32" x2="37.50" y2="135.32"/>
<line x1="34.5" y1="120.99" x2="37.50" y2="120.99"/>
<line x1="34.5" y1="106.66" x2="37.50" y2="106.66"/>
<line x1="34.5" y1="92.33" x2="37.50" y2="92.33"/>
<line x1="34.5" y1="78.00" x2="39.10" y2="78.00"/>
<line x1="34.5" y1="63.67" x2="37.50" y2="63.67"/>
<line x1="34.5" y1="49.34" x2="37.50" y2="49.34"/>
<line x1="34.5" y1="35.01" x2="37.50" y2="35.01"/>
<line x1="26.60" y1="264.3" x2="26.60" y2="261.90"/>
<line x1="34.70" y1="264.3" x2="34.70" y2="261.90"/>
<line x1="87.98" y1="264.3" x2="87.98" y2="261.90"/>
<line x1="119.15" y1="264.3" x2="119.15" y2="261.90"/>
<line x1="141.26" y1="264.3" x2="141.26" y2="261.90"/>
<line x1="158.42" y1="264.3" x2="158.42" y2="259.60"/>
<line x1="172.43" y1="264.3" x2="172.43" y2="261.90"/>
<line x1="184.28" y1="264.3" x2="184.28" y2="261.90"/>
<line x1="194.55" y1="264.3" x2="194.55" y2="261.90"/>
<line x1="203.60" y1="264.3" x2="203.60" y2="261.90"/>
<line x1="211.70" y1="264.3" x2="211.70" y2="259.60"/>
<line x1="264.98" y1="264.3" x2="264.98" y2="261.90"/>
<line x1="296.15" y1="264.3" x2="296.15" y2="261.90"/>
<line x1="318.26" y1="264.3" x2="318.26" y2="261.90"/>
<line x1="335.42" y1="264.3" x2="335.42" y2="259.60"/>
<line x1="349.43" y1="264.3" x2="349.43" y2="261.90"/>
<line x1="361.28" y1="264.3" x2="361.28" y2="261.90"/>
<line x1="371.55" y1="264.3" x2="371.55" y2="261.90"/>
<line x1="380.60" y1="264.3" x2="380.60" y2="261.90"/>
<line x1="388.70" y1="264.3" x2="388.70" y2="259.60"/>
<line x1="441.98" y1="264.3" x2="441.98" y2="261.90"/>
<line x1="473.15" y1="264.3" x2="473.15" y2="261.90"/>
<line x1="495.26" y1="264.3" x2="495.26" y2="261.90"/>
<line x1="512.42" y1="264.3" x2="512.42" y2="259.60"/>
<line x1="512.42" y1="264.3" x2="512.42" y2="259.60"/>
</g>
<g font-size="16.1" text-anchor="end">
<text x="31.0" y="83.6">1.00</text>
<text x="31.0" y="155.6">0.95</text>
<text x="31.0" y="227.3">0.90</text>
</g>
<g font-size="16.1">
<text x="129.2" y="282.2">5.</text>
<text x="145" y="282.2">×</text>
<text x="156.4" y="282.2">10</text>
<text x="173.6" y="275.8" font-size="11.4">−4</text>
</g>
<g font-size="16.1" text-anchor="middle">
<text x="211.0" y="282.2">0.001</text>
<text x="335.2" y="282.2">0.005</text>
<text x="387.7" y="282.2">0.010</text>
<text x="511.3" y="282.2">0.050</text>
</g>
<g font-size="21.3">
<text transform="translate(12.3,21.0) scale(1.107,1)">Δ</text>
<text x="28.9" y="24.9" font-size="14.8" font-style="italic">i</text>
<text x="35.2" y="22.4">/</text>
<text transform="translate(40.8,21.0) scale(1.107,1)">Δ</text>
</g>
<text x="522.4" y="271.4" font-size="21.8">Ω</text>
<rect x="549.1" y="52.5" width="103.4" height="181.4" fill="#fff" stroke="#2a2a2a" stroke-width="1"/>
<line x1="559.3" y1="72.2" x2="580.7" y2="72.2" stroke="#0000ff" stroke-width="2"/>
<text transform="translate(587.9,75.8) scale(1.09,1)" font-size="18.3">Δ</text>
<text x="601.6" y="79.7" font-size="13.4">1, <tspan font-style="italic">N</tspan>=2</text>
<line x1="559.3" y1="100.7" x2="580.7" y2="100.7" stroke="#ff0000" stroke-width="2"/>
<text transform="translate(587.9,104.3) scale(1.09,1)" font-size="18.3">Δ</text>
<text x="601.6" y="108.2" font-size="13.4">1, <tspan font-style="italic">N</tspan>=3</text>
<line x1="559.3" y1="129.2" x2="580.7" y2="129.2" stroke="#0cab0c" stroke-width="2"/>
<text transform="translate(587.9,132.8) scale(1.09,1)" font-size="18.3">Δ</text>
<text x="601.6" y="136.7" font-size="13.4">1, <tspan font-style="italic">N</tspan>=4</text>
<line x1="559.3" y1="157.7" x2="580.7" y2="157.7" stroke="#067206" stroke-width="2"/>
<text transform="translate(587.9,161.3) scale(1.09,1)" font-size="18.3">Δ</text>
<text x="601.6" y="165.2" font-size="13.4">2, <tspan font-style="italic">N</tspan>=4</text>
<line x1="559.3" y1="186.2" x2="580.7" y2="186.2" stroke="#ff7f2e" stroke-width="2"/>
<text transform="translate(587.9,189.8) scale(1.09,1)" font-size="18.3">Δ</text>
<text x="601.6" y="193.7" font-size="13.4">1, <tspan font-style="italic">N</tspan>=5</text>
<line x1="559.3" y1="214.7" x2="580.7" y2="214.7" stroke="#b45a34" stroke-width="2"/>
<text transform="translate(587.9,218.3) scale(1.09,1)" font-size="18.3">Δ</text>
<text x="601.6" y="222.2" font-size="13.4">2, <tspan font-style="italic">N</tspan>=5</text>
</svg>
</div></body></html>
